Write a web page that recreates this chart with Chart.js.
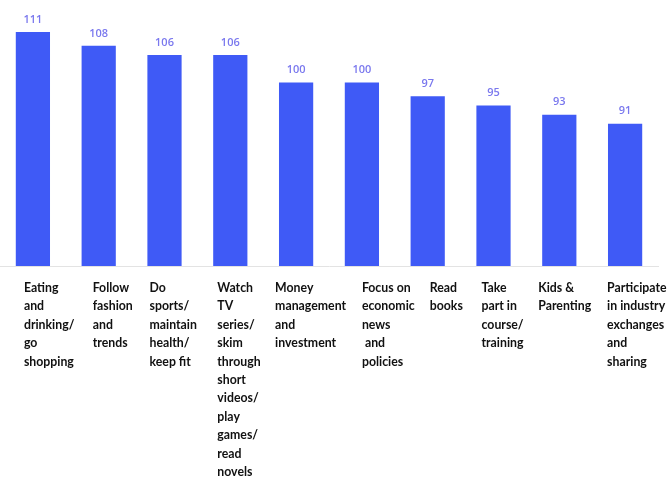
<!DOCTYPE html>
<html lang="en">
<head>
    <meta charset="UTF-8">
    <title>Activities</title>
    <script src="https://cdn.jsdelivr.net/npm/chart.js"></script>
    <style>
        body, html {
            margin: 0;
            padding: 0;
            background-color: #ffffff;
        }
        #wrap {
            width: 668px;
            height: 477px;
            overflow: hidden;
        }
    </style>
</head>
<body>
    <div id="wrap">
        <canvas id="barChart" width="668" height="477"></canvas>
    </div>
    <script>
        // chart data
        const categories = [
            ['Eating', 'and', 'drinking/', 'go', 'shopping'],
            ['Follow', 'fashion', 'and', 'trends'],
            ['Do', 'sports/', 'maintain', 'health/', 'keep fit'],
            ['Watch', 'TV', 'series/', 'skim', 'through', 'short', 'videos/', 'play', 'games/', 'read', 'novels'],
            ['Money', 'management', 'and', 'investment'],
            ['Focus on', 'economic', 'news', ' and', 'policies'],
            ['Read', 'books'],
            ['Take', 'part in', 'course/', 'training'],
            ['Kids &', 'Parenting'],
            ['Participate', 'in industry', 'exchanges', 'and', 'sharing']
        ];
        const values = [111, 108, 106, 106, 100, 100, 97, 95, 93, 91];

        // how far each label column starts left/right of its bar centre
        const labelNudge = [-9, -6, -15, -13, -21, 0, 2, -12, -21, -18];

        // draws the numbers above the bars and the wrapped category labels
        const labelPlugin = {
            id: 'labelPlugin',
            afterDatasetsDraw(chart) {
                const ctx = chart.ctx;
                const meta = chart.getDatasetMeta(0);
                ctx.save();
                ctx.font = '600 11px "Open Sans"';
                ctx.fillStyle = '#7a78ee';
                ctx.textAlign = 'center';
                ctx.textBaseline = 'bottom';
                meta.data.forEach((bar, i) => {
                    ctx.fillText(values[i], bar.x, bar.y - 7);
                });

                const xScale = chart.scales.x;
                const bottom = chart.chartArea.bottom;
                ctx.font = 'bold 12.3px Lato';
                ctx.fillStyle = '#111111';
                ctx.textAlign = 'left';
                ctx.textBaseline = 'middle';
                categories.forEach((lines, i) => {
                    const x = xScale.getPixelForValue(i) + labelNudge[i];
                    lines.forEach((line, j) => {
                        ctx.fillText(line, x, bottom + 22 + j * 18.4);
                    });
                });
                ctx.restore();
            }
        };

        const ctx = document.getElementById('barChart').getContext('2d');
        const barChart = new Chart(ctx, {
            type: 'bar',
            data: {
                labels: categories.map(c => c.join(' ')),
                datasets: [{
                    data: values,
                    backgroundColor: '#3f5af6',
                    borderWidth: 0,
                    barPercentage: 0.52,
                    categoryPercentage: 1
                }]
            },
            options: {
                responsive: false,
                animation: false,
                layout: {
                    padding: { top: 0, left: 0, right: 10, bottom: 203 }
                },
                scales: {
                    x: {
                        ticks: { display: false },
                        grid: { display: false },
                        border: { display: true, color: '#e3e3e3', width: 1 }
                    },
                    y: {
                        display: false,
                        min: 60,
                        max: 118
                    }
                },
                plugins: {
                    legend: { display: false },
                    tooltip: { enabled: false }
                }
            },
            plugins: [labelPlugin]
        });
    </script>
</body>
</html>
